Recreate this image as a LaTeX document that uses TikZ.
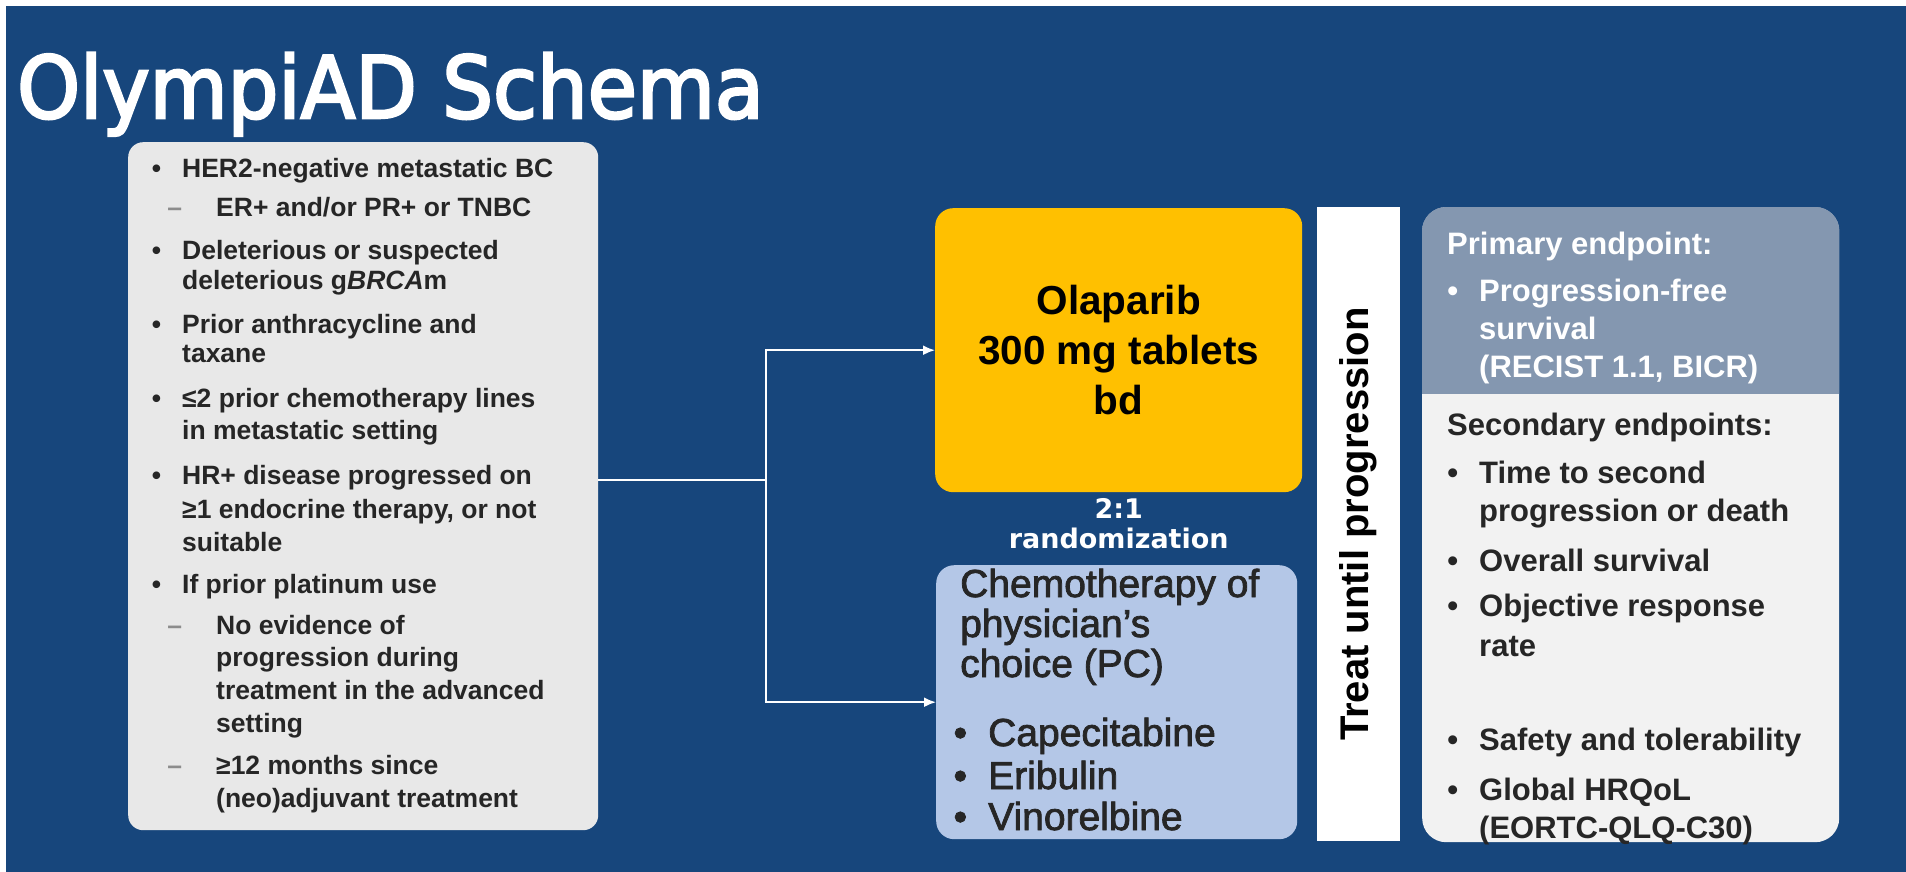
\documentclass[tikz,border=0pt]{standalone}
\usepackage{fontspec}
\setmainfont{Liberation Sans}
\newfontfamily\titlefont[FakeStretch=0.93,FakeBold=3]{DejaVu Sans}
\newfontfamily\randfont{DejaVu Sans}
\newfontfamily\armfont[FakeBold=2]{Liberation Sans}
\usetikzlibrary{arrows.meta,positioning}
\definecolor{slideblue}{HTML}{17467C}
\definecolor{critgray}{HTML}{E8E8E8}
\definecolor{olapgold}{HTML}{FFC000}
\definecolor{chemoblue}{HTML}{B4C7E7}
\definecolor{primblue}{HTML}{8497B0}
\definecolor{secgray}{HTML}{F2F2F2}
\definecolor{txtgray}{HTML}{262626}
\definecolor{dashgray}{HTML}{8C8C8C}
\newcommand\bul{\llap{\textbullet\hspace{21pt}}}
\newcommand\dsh{\llap{\textcolor{dashgray}{\textendash}\hspace{34pt}}}
\tikzset{
  panel/.style={rectangle,inner sep=0pt,anchor=north west},
  txtline/.style={inner sep=0pt,anchor=base west},
  crit/.style={txtline,text=txtgray,font=\bfseries\fontsize{26.5}{32}\selectfont},
  endpt/.style={txtline,font=\bfseries\fontsize{31}{38}\selectfont},
  chemotxt/.style={txtline,text=txtgray,font=\armfont\fontsize{39}{44}\selectfont},
  conn/.style={draw=white,line width=2pt,-{Latex[length=12pt,width=10pt]}},
}
\begin{document}
\begin{tikzpicture}[x=1pt,y=-1pt]
  \useasboundingbox[fill=white] (0,0) rectangle (1906,872);
  \fill[slideblue] (6,6) rectangle (1906,872);
  \node[txtline,text=white,font=\titlefont\fontsize{86}{100}\selectfont] (title) at (17,118) {OlympiAD Schema};

  % boxes
  \node[panel,fill=critgray,rounded corners=15pt,minimum width=470pt,minimum height=688pt] (crit) at (128,142) {};
  \node[panel,fill=olapgold,rounded corners=18pt,minimum width=367pt,minimum height=284pt,
        align=center,font=\bfseries\fontsize{40.5}{50}\selectfont] (olap) at (935,208) {Olaparib\\300 mg tablets\\bd};
  \node[below=6pt of olap,inner sep=0pt,align=center,text=white,
        font=\randfont\bfseries\fontsize{27}{30}\selectfont] (rand) {2:1\\randomization};
  \node[panel,fill=chemoblue,rounded corners=18pt,minimum width=361pt,minimum height=274pt] (chemo) at (936,565) {};
  \node[panel,fill=white,minimum width=83pt,minimum height=634pt] (treat) at (1317,207) {};
  \node[rotate=90,inner sep=0pt,font=\bfseries\fontsize{40}{48}\selectfont] (treattxt) at (treat.center) {Treat until progression};
  \node[panel,fill=secgray,rounded corners=24pt,minimum width=417pt,minimum height=635pt] (endp) at (1422,207) {};
  \coordinate (split) at (1839,393);
  \begin{scope}
    \clip (endp.north west) rectangle (split);
    \fill[primblue,rounded corners=24pt] (endp.north west) rectangle (endp.south east);
  \end{scope}

  % eligibility
  \foreach \x/\y/\t [count=\i] in {
      182/177.5/{\bul HER2-negative metastatic BC},
      216/216/{\dsh ER+ and/or PR+ or TNBC},
      182/259/{\bul Deleterious or suspected},
      182/289/{deleterious g\textit{BRCA}m},
      182/333/{\bul Prior anthracycline and},
      182/362/{taxane},
      182/407/{\bul ≤2 prior chemotherapy lines},
      182/439/{in metastatic setting},
      182/484/{\bul HR+ disease progressed on},
      182/518/{≥1 endocrine therapy, or not},
      182/551/{suitable},
      182/593/{\bul If prior platinum use},
      216/634/{\dsh No evidence of},
      216/666/{progression during},
      216/699/{treatment in the advanced},
      216/732/{setting},
      216/774/{\dsh ≥12 months since},
      216/807/{(neo)adjuvant treatment}}
    \node[crit] (c\i) at (\x,\y) {\t};

  % chemotherapy arm
  \foreach \x/\y/\t [count=\i] in {
      960/597/{Chemotherapy of},
      960/637/{physician’s},
      960/677/{choice (PC)},
      988/746/{\bul Capecitabine},
      988/789/{\bul Eribulin},
      988/830/{\bul Vinorelbine}}
    \node[chemotxt] (pc\i) at (\x,\y) {\t};

  % endpoints
  \foreach \x/\y/\t [count=\i] in {
      1447/254/{Primary endpoint:},
      1479/301/{\bul Progression-free},
      1479/339/{survival},
      1479/377/{(RECIST 1.1, BICR)}}
    \node[endpt,text=white] (pe\i) at (\x,\y) {\t};
  \foreach \x/\y/\t [count=\i] in {
      1447/435/{Secondary endpoints:},
      1479/483/{\bul Time to second},
      1479/521/{progression or death},
      1479/571/{\bul Overall survival},
      1479/616/{\bul Objective response},
      1479/656/{rate},
      1479/750/{\bul Safety and tolerability},
      1479/800/{\bul Global HRQoL},
      1479/838/{(EORTC-QLQ-C30)}}
    \node[endpt,text=txtgray] (se\i) at (\x,\y) {\t};

  % randomisation arrows
  \coordinate (fork) at (766,480);
  \draw[conn] (crit.east |- fork) -- (fork) |- (olap.west);
  \draw[conn] (fork) |- (chemo.west);
\end{tikzpicture}
\end{document}
